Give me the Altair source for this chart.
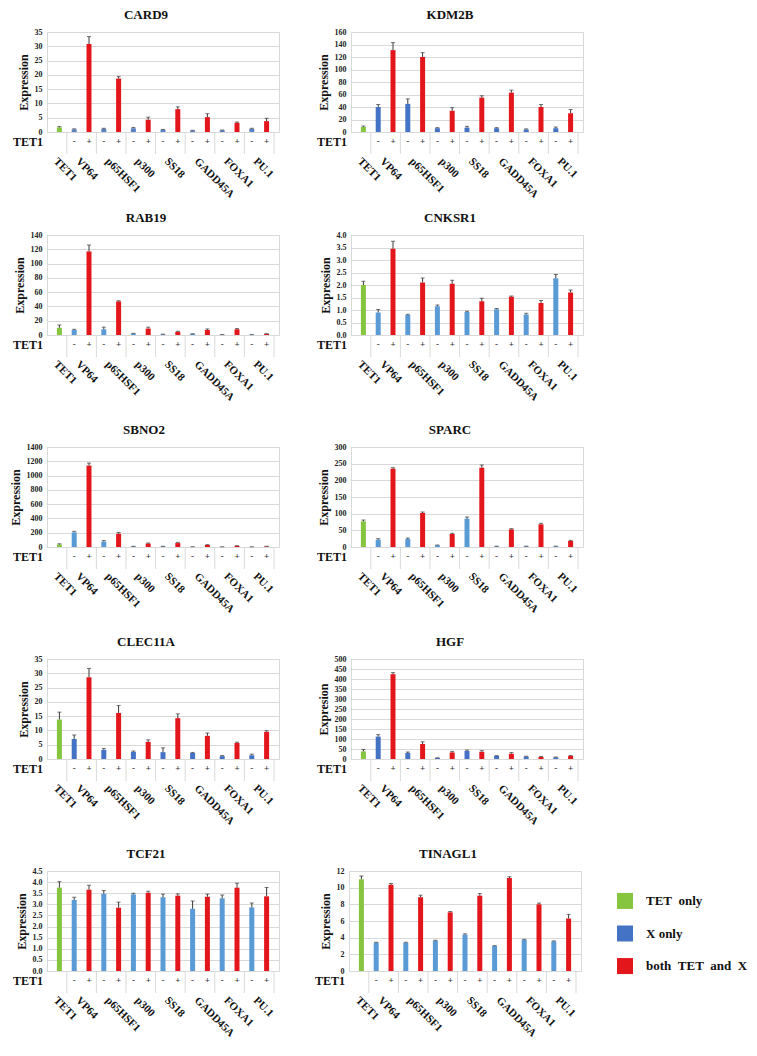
import altair as alt
import pandas as pd

# ---------------- data ----------------
GENES = ["CARD9", "KDM2B", "RAB19", "CNKSR1", "SBNO2", "SPARC", "CLEC11A", "HGF", "TCF21", "TINAGL1"]
CONSTRUCTS = ["TET1", "VP64", "p65HSF1", "p300", "SS18", "GADD45A", "FOXA1", "PU.1"]
GROUPS = ["TET only", "X only", "both TET and X"]
LEGEND_LABELS = ["TET\u00a0\u00a0only", "X only", "both\u00a0\u00a0TET\u00a0\u00a0and\u00a0\u00a0X"]
ROW_LABEL = "TET1"

Y_TITLES = ["Expression", "Expression", "Expression", "Expression", "Expression",
            "Expression", "Expression", "Expresion", "Expression", "Expression"]
Y_MAX = [35, 160, 140, 4.0, 1400, 300, 35, 500, 4.5, 12]
Y_STEP = [5, 20, 20, 0.5, 200, 50, 5, 50, 0.5, 2]

# order: TET1, then (-, +) for VP64, p65HSF1, p300, SS18, GADD45A, FOXA1, PU.1
CARD9_VAL = [1.6, 0.9, 30.8, 1.1, 18.7, 1.3, 4.3, 0.8, 8.0, 0.5, 5.2, 0.6, 3.2, 1.1, 3.8]
CARD9_ERR = [0.3, 0.2, 2.6, 0.2, 0.7, 0.3, 0.9, 0.1, 0.8, 0.1, 1.2, 0.1, 0.3, 0.2, 1.0]

KDM2B_VAL = [8, 40, 131, 45, 120, 6, 34, 7, 55, 6, 63, 4, 40, 6, 30]
KDM2B_ERR = [1.5, 4, 12, 8, 7, 1, 5, 2, 3, 1, 4, 1, 4, 2, 6]

RAB19_VAL = [10, 7, 117, 8, 47, 2, 9, 1, 4.5, 1.5, 7, 0.5, 8, 0.5, 1.5]
RAB19_ERR = [4, 1, 9, 3, 1, 0.3, 2, 0.2, 0.8, 0.3, 1.5, 0.1, 1, 0.1, 0.3]

CNKSR1_VAL = [2.0, 0.9, 3.45, 0.8, 2.1, 1.15, 2.05, 0.92, 1.35, 1.03, 1.53, 0.82, 1.28, 2.27, 1.7]
CNKSR1_ERR = [0.15, 0.12, 0.3, 0.03, 0.18, 0.05, 0.14, 0.03, 0.12, 0.03, 0.03, 0.05, 0.1, 0.15, 0.1]

SBNO2_VAL = [35, 205, 1140, 75, 185, 8, 48, 8, 55, 3, 28, 2, 15, 2, 8]
SBNO2_ERR = [10, 15, 35, 15, 18, 2, 8, 2, 10, 1, 5, 1, 3, 1, 2]

SPARC_VAL = [77, 22, 235, 24, 102, 5, 39, 85, 238, 2, 53, 2, 68, 2, 18]
SPARC_ERR = [4, 3, 3, 3, 3, 1, 2, 5, 8, 0.5, 2, 0.5, 3, 0.5, 2]

CLEC11A_VAL = [13.8, 7.0, 28.6, 3.2, 16.1, 2.5, 6.0, 2.4, 14.3, 2.1, 8.1, 1.0, 5.6, 1.3, 9.5]
CLEC11A_ERR = [2.6, 1.4, 3.1, 0.5, 2.6, 0.3, 0.7, 1.5, 1.5, 0.2, 1.0, 0.2, 0.3, 0.4, 0.4]

HGF_VAL = [38, 112, 424, 30, 75, 5, 33, 40, 36, 15, 26, 12, 10, 8, 15]
HGF_ERR = [10, 10, 8, 5, 11, 1, 5, 5, 6, 2, 6, 2, 3, 2, 3]

TCF21_VAL = [3.75, 3.2, 3.66, 3.47, 2.85, 3.45, 3.52, 3.32, 3.39, 2.8, 3.34, 3.27, 3.75, 2.86, 3.36]
TCF21_ERR = [0.27, 0.12, 0.2, 0.15, 0.25, 0.05, 0.07, 0.14, 0.08, 0.35, 0.12, 0.15, 0.2, 0.2, 0.4]

TINAGL1_VAL = [11.0, 3.4, 10.35, 3.4, 8.85, 3.64, 7.04, 4.36, 9.04, 3.0, 11.16, 3.76, 8.0, 3.56, 6.3]
TINAGL1_ERR = [0.4, 0.05, 0.15, 0.05, 0.25, 0.05, 0.1, 0.1, 0.25, 0.05, 0.15, 0.05, 0.15, 0.05, 0.5]

VALUES = [CARD9_VAL, KDM2B_VAL, RAB19_VAL, CNKSR1_VAL, SBNO2_VAL,
          SPARC_VAL, CLEC11A_VAL, HGF_VAL, TCF21_VAL, TINAGL1_VAL]
ERRORS = [CARD9_ERR, KDM2B_ERR, RAB19_ERR, CNKSR1_ERR, SBNO2_ERR,
          SPARC_ERR, CLEC11A_ERR, HGF_ERR, TCF21_ERR, TINAGL1_ERR]

# ---------------- style ----------------
FONT = "Liberation Serif"
W, H = 232, 100
GREEN = "#86c540"
RED = "#e3161c"
DARK_BLUE = "#4472c4"
LIGHT_BLUE = "#5b9bd5"
PANEL_BLUE = {
    "CARD9": "#5a82c4", "KDM2B": DARK_BLUE, "RAB19": LIGHT_BLUE, "CNKSR1": LIGHT_BLUE,
    "SBNO2": LIGHT_BLUE, "SPARC": LIGHT_BLUE, "CLEC11A": DARK_BLUE, "HGF": DARK_BLUE,
    "TCF21": LIGHT_BLUE, "TINAGL1": LIGHT_BLUE,
}
ERR_COLOR = "#3a3a3a"
GRID = "#d9d9d9"
TEXT = "#111111"
SIGN_COLOR = "#333333"

N_SLOTS = 1 + 2 * (len(CONSTRUCTS) - 1)
SLOT_CONSTRUCT = [CONSTRUCTS[0]] + [c for c in CONSTRUCTS[1:] for _ in range(2)]
SLOT_TET = [""] + ["-", "+"] * (len(CONSTRUCTS) - 1)
SLOT_GROUP = [GROUPS[0]] + [GROUPS[1], GROUPS[2]] * (len(CONSTRUCTS) - 1)


def panel(gene, vals, errs, ymax, ystep, ytitle):
    df = pd.DataFrame({
        "pos": [i + 0.5 for i in range(N_SLOTS)],
        "construct": SLOT_CONSTRUCT,
        "tet": SLOT_TET,
        "group": SLOT_GROUP,
        "value": vals,
        "err": errs,
    })
    df["top"] = df["value"] + df["err"]
    labels = df.groupby("construct", sort=False)["pos"].mean().reset_index()
    seps = df.groupby("construct", sort=False)["pos"].max().reset_index()
    seps["pos"] = seps["pos"] + 0.5

    n = int(round(ymax / ystep))
    ticks = [round(k * ystep, 3) for k in range(n + 1)]
    fmt = ".1f" if ystep < 1 else "d"

    xscale = alt.Scale(domain=[0, N_SLOTS], nice=False, zero=False)
    x = alt.X("pos:Q", scale=xscale, axis=None)
    yscale = alt.Scale(domain=[0, ymax], nice=False, zero=True)
    yaxis = alt.Axis(values=ticks, format=fmt, title=ytitle, grid=True, gridColor=GRID,
                     domain=False, ticks=False, labelOverlap=False,
                     labelFont=FONT, labelFontSize=8, labelFontWeight="bold",
                     labelColor="#222222", labelPadding=5,
                     titleFont=FONT, titleFontSize=12, titleFontWeight="bold",
                     titleColor=TEXT, titlePadding=4)

    def yenc(field):
        return alt.Y(field, scale=yscale, axis=yaxis)

    base = alt.Chart(df)
    bars = base.mark_bar(size=5).encode(
        x=x, y=yenc("value:Q"),
        color=alt.Color("group:N", scale=alt.Scale(domain=GROUPS, range=[GREEN, PANEL_BLUE[gene], RED]),
                        legend=None),
    )
    err_lines = base.mark_rule(color=ERR_COLOR, strokeWidth=1).encode(
        x=x, y=yenc("value:Q"), y2="top:Q")
    caps = base.mark_tick(orient="horizontal", size=4, thickness=1, color=ERR_COLOR).encode(
        x=x, y=yenc("top:Q"))
    signs = base.mark_text(font=FONT, fontSize=9, fontWeight="bold",
                           baseline="middle").encode(
        x=x, y=alt.value(H + 9), text="tet:N", color=alt.value(SIGN_COLOR))
    separators = alt.Chart(seps).mark_rule(color=GRID, strokeWidth=1).encode(
        x=x, y=alt.value(H), y2=alt.value(H + 22))
    row_label = alt.Chart(pd.DataFrame({"t": [ROW_LABEL]})).mark_text(
        align="right", baseline="middle", font=FONT, fontSize=12, fontWeight="bold", color=TEXT
    ).encode(x=alt.value(-4), y=alt.value(H + 10), text="t:N")
    names = alt.Chart(labels).mark_text(
        angle=45, align="left", baseline="middle", font=FONT, fontSize=11,
        fontWeight="bold", color=TEXT, xOffset=-4
    ).encode(x=x, y=alt.value(H + 28), text="construct:N")

    return alt.layer(bars, err_lines, caps, signs, separators, row_label, names).properties(
        width=W, height=H,
        title=alt.TitleParams(gene, font=FONT, fontSize=13, fontWeight="bold", color=TEXT,
                              anchor="middle", frame="bounds", offset=6),
    )


panels = [panel(g, v, e, m, s, t) for g, v, e, m, s, t in
          zip(GENES, VALUES, ERRORS, Y_MAX, Y_STEP, Y_TITLES)]

# legend
leg_df = pd.DataFrame({"group": GROUPS, "label": LEGEND_LABELS})
leg_y = alt.Y("group:N", sort=GROUPS, scale=alt.Scale(domain=GROUPS, padding=0.92), axis=None)
leg_color = alt.Color("group:N", scale=alt.Scale(domain=GROUPS, range=[GREEN, DARK_BLUE, RED]), legend=None)
leg_sq = alt.Chart(leg_df).mark_square(size=256, opacity=1).encode(
    x=alt.value(8), y=leg_y, color=leg_color)
leg_tx = alt.Chart(leg_df).mark_text(align="left", baseline="middle", font=FONT, fontSize=13,
                                     fontWeight="bold", color=TEXT).encode(
    x=alt.value(29), y=leg_y, text="label:N")
legend = alt.layer(leg_sq, leg_tx).properties(
    width=100, height=125,
    title=alt.TitleParams(" ", font=FONT, fontSize=13, fontWeight="bold", offset=6),
    view=alt.ViewBackground(stroke="transparent"),
)

rows = []
for r in range(4):
    rows.append(alt.hconcat(panels[2 * r], panels[2 * r + 1], spacing=36)
                .resolve_scale(color="independent"))
rows.append(alt.hconcat(panels[8], panels[9], legend, spacing=34).resolve_scale(color="independent"))

top_pair = alt.vconcat(rows[0], rows[1], spacing=10).resolve_scale(color="independent")
chart = alt.vconcat(top_pair, rows[2], rows[3], rows[4], spacing=19).resolve_scale(
    color="independent"
).properties(
    padding={"left": 0, "top": 0, "right": 0, "bottom": 0}
).configure_view(stroke=GRID)

chart.save("out.html", embed_options={"renderer": "svg", "actions": False})
